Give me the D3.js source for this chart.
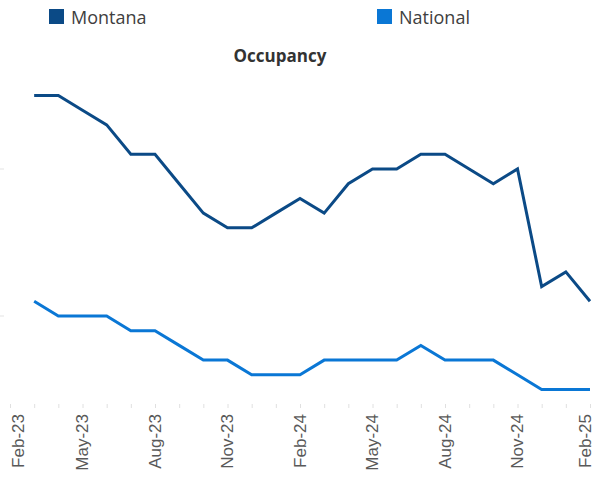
<!DOCTYPE html>
<html>
<head>
<meta charset="utf-8">
<script src="https://cdn.jsdelivr.net/npm/d3@7"></script>
<style>
  body { margin: 0; background: #fff; }
  svg { display: block; }
</style>
</head>
<body>
<div id="chart"></div>
<script>
var months = ["Feb-23","Mar-23","Apr-23","May-23","Jun-23","Jul-23","Aug-23","Sep-23","Oct-23","Nov-23","Dec-23","Jan-24",
  "Feb-24","Mar-24","Apr-24","May-24","Jun-24","Jul-24","Aug-24","Sep-24","Oct-24","Nov-24","Dec-24","Jan-25","Feb-25"];
var tickLabels = ["Feb-23","May-23","Aug-23","Nov-23","Feb-24","May-24","Aug-24","Nov-24","Feb-25"];

// occupancy %, no value for Feb-23
var montana = [null,75,75,74,73,71,71,69,67,66,66,67,68,67,69,70,70,71,71,70,69,70,62,63,61];
var national = [null,61,60,60,60,59,59,58,57,57,56,56,56,57,57,57,57,58,57,57,57,56,55,55,55];

var seriesNames = ["Montana","National"];
var colors = ["#0B4A86","#0A77D5"];

var width = 595, height = 480;

var svg = d3.select("#chart").append("svg")
  .attr("width", width)
  .attr("height", height)
  .style("font-family", "'Open Sans', sans-serif");

var x = d3.scalePoint()
  .domain(months)
  .range([10, 590]);

var y = d3.scaleLinear()
  .domain([60, 70])
  .range([316, 169]);

// faint gridline stubs on the left
svg.append("g")
  .selectAll("line")
  .data([60, 70])
  .enter().append("line")
  .attr("x1", 0).attr("x2", 4)
  .attr("y1", function(d) { return y(d); })
  .attr("y2", function(d) { return y(d); })
  .style("stroke", "#e3e3e3")
  .style("stroke-width", 1);

// x axis: small ticks only
var xAxis = svg.append("g")
  .attr("transform", "translate(0,404)")
  .call(d3.axisBottom(x).tickSize(4).tickFormat(""));
xAxis.select(".domain").remove();
xAxis.selectAll(".tick line").style("stroke", "#e0e0e0");

svg.append("g")
  .selectAll("text")
  .data(tickLabels)
  .enter().append("text")
  .attr("transform", function(d) {
    // keep the end labels inside the page
    var xv = Math.max(18, Math.min(585, x(d)));
    return "translate(" + xv + ",414) rotate(-90)";
  })
  .attr("dy", "0.35em")
  .style("text-anchor", "end")
  .style("font-family", "'Liberation Sans', Arial, sans-serif")
  .style("font-size", "17px")
  .style("fill", "#595959")
  .text(function(d) { return d; });

var line = d3.line()
  .defined(function(d) { return d.v != null; })
  .x(function(d) { return x(d.m); })
  .y(function(d) { return y(d.v); });

[montana, national].forEach(function(vals, i) {
  var pts = months.map(function(m, j) { return {m: m, v: vals[j]}; });
  svg.append("path")
    .datum(pts)
    .attr("d", line)
    .style("fill", "none")
    .style("stroke", colors[i])
    .style("stroke-width", 3)
    .style("stroke-linejoin", "miter");
});

// title
svg.append("text")
  .attr("x", 280)
  .attr("y", 62)
  .style("text-anchor", "middle")
  .style("font-size", "17px")
  .style("font-weight", "bold")
  .style("fill", "#333333")
  .text("Occupancy");

// legend
var legendX = [49, 377];
var legend = svg.selectAll(".legend")
  .data(seriesNames)
  .enter().append("g")
  .attr("class", "legend")
  .attr("transform", function(d, i) { return "translate(" + legendX[i] + ",9)"; });

legend.append("rect")
  .attr("width", 15)
  .attr("height", 15)
  .style("fill", function(d, i) { return colors[i]; });

legend.append("text")
  .attr("x", 22)
  .attr("y", 15)
  .style("font-size", "18px")
  .style("fill", "#404040")
  .text(function(d) { return d; });
</script>
</body>
</html>
